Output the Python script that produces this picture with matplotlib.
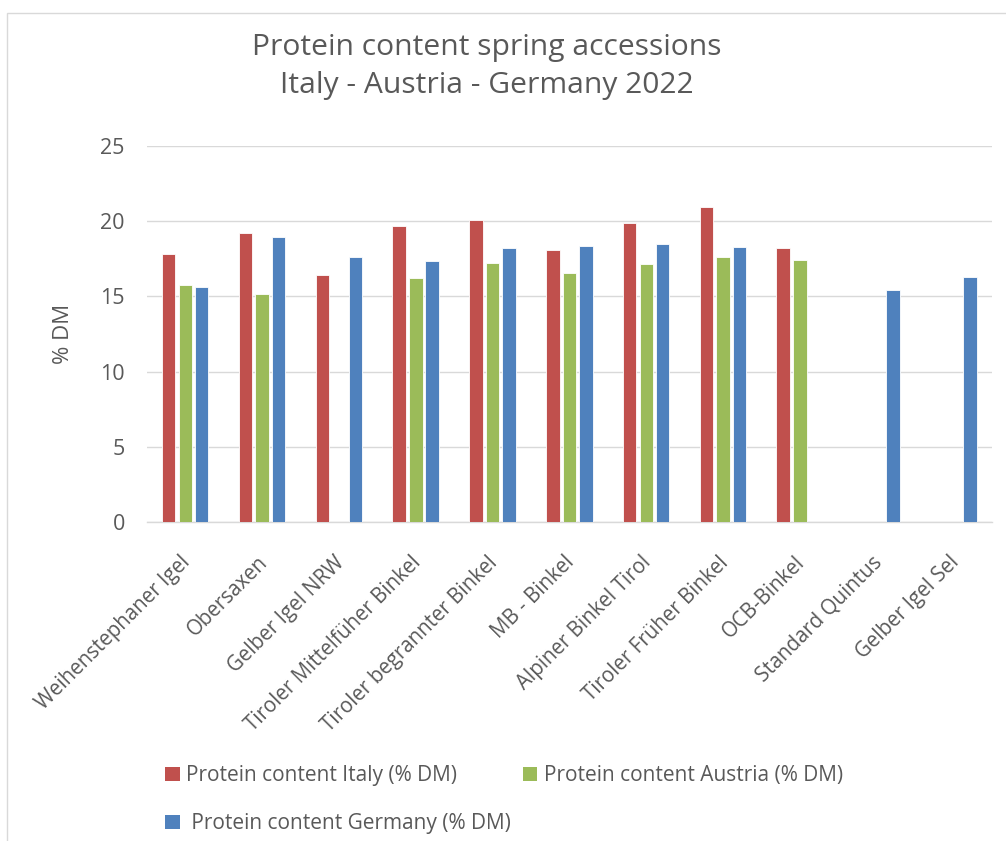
import matplotlib
matplotlib.use("Agg")
import matplotlib.pyplot as plt
import numpy as np
from matplotlib.patches import Rectangle, Patch
from matplotlib.transforms import ScaledTranslation

plt.rcParams['font.family'] = ['Open Sans', 'DejaVu Sans']

# Accessions and protein content (% dry matter) per trial country
accessions = [
    "Weihenstephaner Igel", "Obersaxen", "Gelber Igel NRW",
    "Tiroler Mittelfüher Binkel", "Tiroler begrannter Binkel", "MB - Binkel",
    "Alpiner Binkel Tirol", "Tiroler Früher Binkel", "OCB-Binkel",
    "Standard Quintus", "Gelber Igel Sel",
]
italy = [17.84, 19.22, 16.43, 19.70, 20.08, 18.09, 19.86, 20.92, 18.22, np.nan, np.nan]
austria = [15.79, 15.15, np.nan, 16.23, 17.23, 16.58, 17.14, 17.61, 17.43, np.nan, np.nan]
germany = [15.64, 18.95, 17.63, 17.38, 18.22, 18.38, 18.47, 18.29, np.nan, 15.44, 16.28]

series_labels = [
    "Protein content Italy (% DM)",
    "Protein content Austria (% DM)",
    " Protein content Germany (% DM)",
]
colors = ["#C0504D", "#9BBB59", "#4F81BD"]
y_ticks = [0, 5, 10, 15, 20, 25]

W, H = 1006, 841
fig = plt.figure(figsize=(W / 100, H / 100), dpi=100, facecolor="white")

# light chart-area border
fig.patches.append(Rectangle((7 / W, -0.05), 1.2, 1 - 13 / H + 0.05,
                             transform=fig.transFigure, fill=False,
                             edgecolor="#D9D9D9", linewidth=1.0))

ax = fig.add_axes([147 / W, 1 - 522 / H, (992 - 147) / W, (522 - 146) / H])

x = np.arange(len(accessions))
width = 0.176
offsets = [-0.218, 0.0, 0.212]
for vals, off, col, lab in zip([italy, austria, germany], offsets, colors, series_labels):
    ax.bar(x + off, vals, width=width, color=col, edgecolor="white",
           linewidth=0.6, label=lab, zorder=3)

ax.set_xlim(-0.5, len(accessions) - 0.5)
ax.set_ylim(0, 25)
ax.set_yticks(y_ticks)
ax.yaxis.grid(True, color="#D9D9D9", linewidth=1.0, zorder=0)
ax.set_axisbelow(True)
for s in ["top", "right", "left"]:
    ax.spines[s].set_visible(False)
ax.spines["bottom"].set_color("#D9D9D9")
ax.spines["bottom"].set_linewidth(1.0)

ax.tick_params(axis="y", length=0, pad=16, labelsize=15.5, labelcolor="#595959")
ax.tick_params(axis="x", length=0, pad=27, labelsize=14.8, labelcolor="#595959")
ax.set_xticks(x)
ax.set_xticklabels(accessions, rotation=45, ha="right", va="center",
                   rotation_mode="anchor")
shift = ScaledTranslation(2 / 100, 0, fig.dpi_scale_trans)
for lbl in ax.get_xticklabels():
    lbl.set_transform(lbl.get_transform() + shift)

ax.set_ylabel("% DM", fontsize=16, color="#595959", labelpad=0)
ax.yaxis.set_label_coords(-73 / (992 - 147), 0.5)

fig.text(487 / W, 1 - 47 / H, "Protein content spring accessions",
         ha="center", va="center", fontsize=21.6, color="#595959")
fig.text(487 / W, 1 - 86 / H, "Italy - Austria - Germany 2022",
         ha="center", va="center", fontsize=21.6, color="#595959")

# column-major fill: Italy / Germany in the first column, Austria in the second
order = [0, 2, 1]
handles = [Patch(facecolor=colors[i], edgecolor="none") for i in order]
fig.legend(handles, [series_labels[i] for i in order], ncol=2, loc="upper left",
           bbox_to_anchor=(157 / W, 1 - 757 / H), frameon=False,
           fontsize=15, labelcolor="#595959", handlelength=0.68,
           handleheight=0.68, handletextpad=0.3, columnspacing=0.6,
           labelspacing=1.3, borderaxespad=0)

fig.savefig("out.png", dpi=100, facecolor="white")
